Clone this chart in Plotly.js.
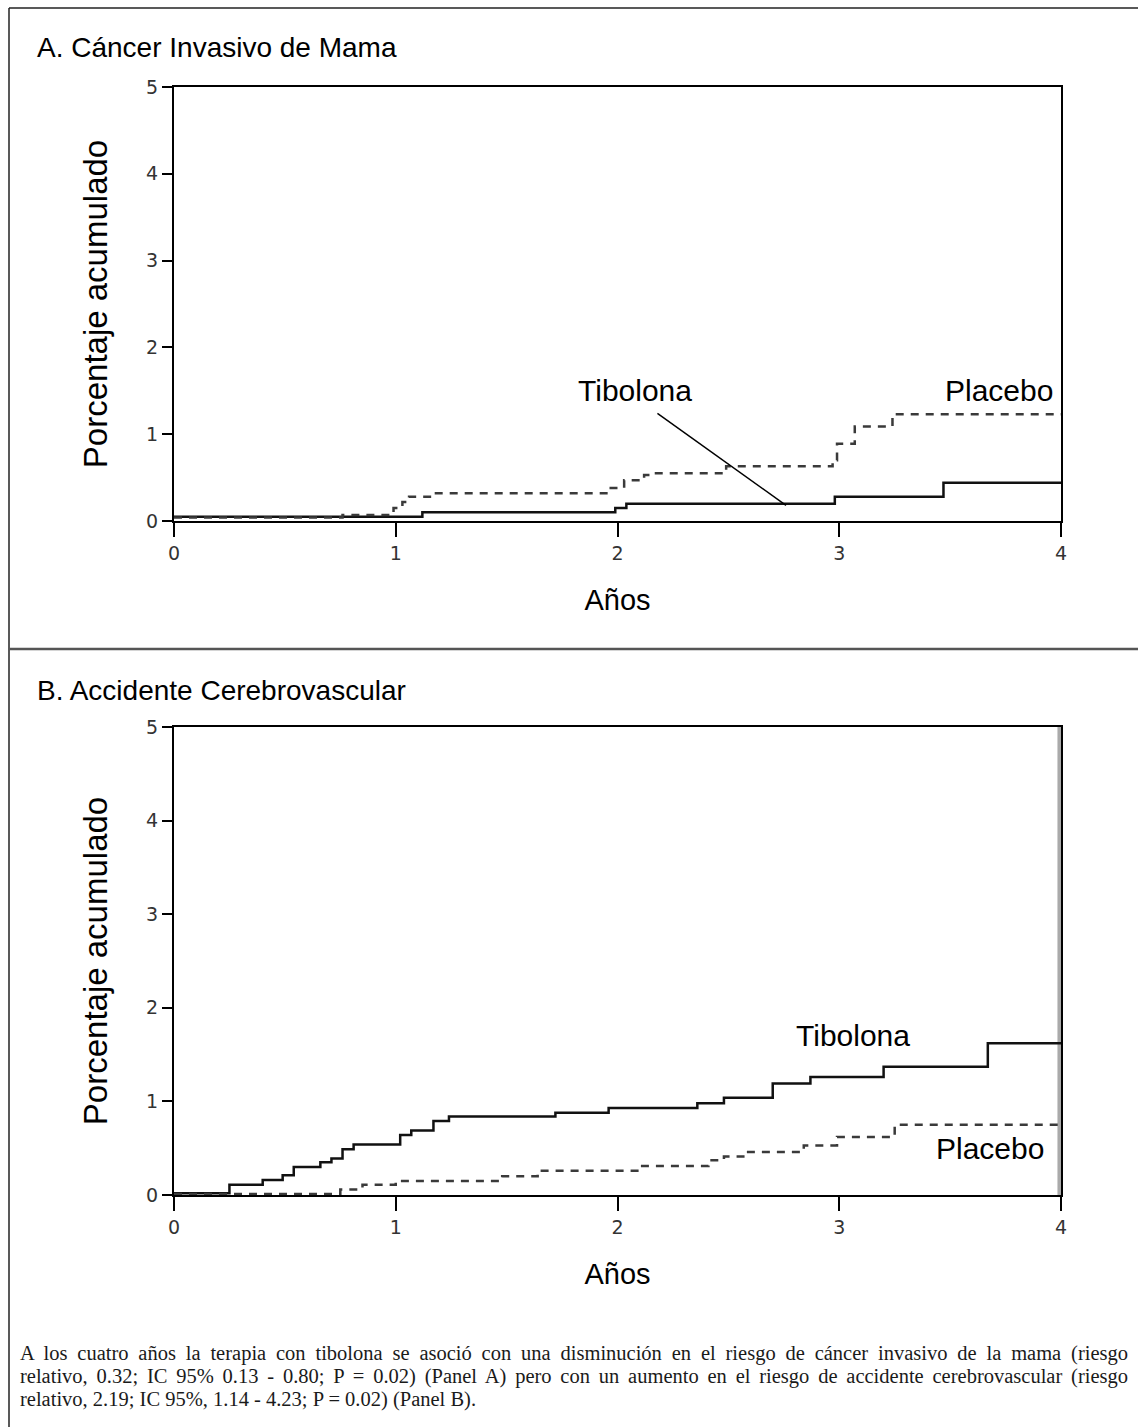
<!DOCTYPE html>
<html>
<head>
<meta charset="utf-8">
<script src="https://cdn.plot.ly/plotly-3.0.1.min.js"></script>
<style>
  html, body { margin: 0; padding: 0; background: #fff; }
  #wrap { position: relative; width: 1138px; height: 1427px; overflow: hidden; }
  #chart { position: absolute; left: 0; top: 0; width: 1138px; height: 1427px; }
  #caption { position: absolute; left: 20px; top: 1342px; width: 1108px;
    font-family: "Liberation Serif", "DejaVu Serif", serif; font-size: 20.5px; line-height: 23px; color: #1a1a1a; }
  #caption .j { text-align: justify; text-align-last: justify; white-space: nowrap; }
  #caption .l { text-align: left; }
</style>
</head>
<body>
<div id="wrap">
  <div id="chart"></div>
  <div id="caption"></div>
</div>
<script>
// ---- Data ----
const years = [0, 1, 2, 3, 4];
const pctTicks = [0, 1, 2, 3, 4, 5];

// Panel A: Cáncer Invasivo de Mama
const tibA_x = [0, 1.12, 1.99, 2.04, 2.98, 3.47, 4];
const tibA_y = [0.05, 0.10, 0.15, 0.20, 0.28, 0.44, 0.44];
const plaA_x = [0, 0.76, 0.99, 1.03, 1.06, 1.17, 1.95, 2.03, 2.12, 2.16, 2.49, 2.97, 2.99, 3.07, 3.24, 4];
const plaA_y = [0.04, 0.07, 0.15, 0.22, 0.28, 0.32, 0.38, 0.47, 0.53, 0.55, 0.63, 0.70, 0.89, 1.09, 1.23, 1.23];

// Panel B: Accidente Cerebrovascular
const tibB_x = [0, 0.25, 0.40, 0.49, 0.54, 0.66, 0.71, 0.76, 0.81, 1.02, 1.07, 1.17, 1.24, 1.72, 1.96, 2.36, 2.48, 2.70, 2.87, 3.20, 3.67, 4];
const tibB_y = [0.02, 0.11, 0.16, 0.21, 0.30, 0.35, 0.39, 0.49, 0.54, 0.64, 0.69, 0.79, 0.84, 0.88, 0.93, 0.98, 1.04, 1.19, 1.26, 1.37, 1.62, 1.62];
const plaB_x = [0, 0.75, 0.85, 1.00, 1.48, 1.64, 2.10, 2.41, 2.48, 2.58, 2.84, 2.99, 3.25, 4];
const plaB_y = [0.01, 0.06, 0.11, 0.15, 0.20, 0.26, 0.31, 0.37, 0.41, 0.46, 0.53, 0.62, 0.75, 0.75];

const panelTitles = ["A. Cáncer Invasivo de Mama", "B. Accidente Cerebrovascular"];
const seriesNames = ["Tibolona", "Placebo"];
const xTitle = "Años";
const yTitle = "Porcentaje acumulado";
const captionLines = [
  "A los cuatro años la terapia con tibolona se asoció con una disminución en el riesgo de cáncer invasivo de la mama (riesgo",
  "relativo, 0.32; IC 95% 0.13 - 0.80; P = 0.02) (Panel A) pero con un aumento en el riesgo de accidente cerebrovascular (riesgo",
  "relativo, 2.19; IC 95%, 1.14 - 4.23; P = 0.02) (Panel B)."
];

// ---- Figure ----
const W = 1138, H = 1427;
const px = v => v / W;
const py = v => 1 - v / H;
const SANS = "Liberation Sans, Arial, sans-serif";

const solid = {color: '#111', width: 2.5, shape: 'hv'};
const dashed = {color: '#3a3a3a', width: 2.5, shape: 'hv', dash: '8px,7px'};

const traces = [
  {x: tibA_x, y: tibA_y, xaxis: 'x', yaxis: 'y', mode: 'lines', line: solid, name: seriesNames[0], showlegend: false, hoverinfo: 'skip'},
  {x: plaA_x, y: plaA_y, xaxis: 'x', yaxis: 'y', mode: 'lines', line: dashed, name: seriesNames[1], showlegend: false, hoverinfo: 'skip'},
  {x: tibB_x, y: tibB_y, xaxis: 'x2', yaxis: 'y2', mode: 'lines', line: solid, name: seriesNames[0], showlegend: false, hoverinfo: 'skip'},
  {x: plaB_x, y: plaB_y, xaxis: 'x2', yaxis: 'y2', mode: 'lines', line: dashed, name: seriesNames[1], showlegend: false, hoverinfo: 'skip'}
];

const tickFont = {family: 'DejaVu Sans, sans-serif', size: 19, color: '#333'};

function xAxis(anchor) {
  return {
    domain: [px(174), px(1061)], anchor: anchor, range: [0, 4],
    tickvals: years, ticktext: years.map(String),
    showline: true, linewidth: 2, linecolor: '#000', mirror: true,
    ticks: 'outside', ticklen: 14, tickwidth: 2, tickcolor: '#000',
    showgrid: false, zeroline: false,
    tickfont: tickFont,
    title: {text: xTitle, font: {family: SANS, size: 29, color: '#000'}, standoff: 27},
    fixedrange: true
  };
}
function yAxis(anchor, dom) {
  return {
    domain: dom, anchor: anchor, range: [0, 5],
    tickvals: pctTicks, ticktext: pctTicks.map(String),
    showline: true, linewidth: 2, linecolor: '#000', mirror: true,
    ticks: 'outside', ticklen: 10, tickwidth: 2, tickcolor: '#000',
    showgrid: false, zeroline: false,
    tickfont: tickFont,
    title: {text: yTitle, font: {family: SANS, size: 33, color: '#000'}, standoff: 29},
    fixedrange: true
  };
}

const layout = {
  width: W, height: H,
  margin: {l: 0, r: 0, t: 0, b: 0},
  paper_bgcolor: '#fff', plot_bgcolor: '#fff',
  showlegend: false,
  xaxis: xAxis('y'),
  yaxis: yAxis('x', [py(521), py(87)]),
  xaxis2: xAxis('y2'),
  yaxis2: yAxis('x2', [py(1195), py(727)]),
  shapes: [
    // outer frame (left, top) and separator between panels
    {type: 'line', xref: 'paper', yref: 'paper', x0: px(9), x1: px(9), y0: py(8), y1: 0, line: {color: '#222', width: 1.5}},
    {type: 'line', xref: 'paper', yref: 'paper', x0: px(9), x1: 1, y0: py(8), y1: py(8), line: {color: '#222', width: 1.5}},
    {type: 'line', xref: 'paper', yref: 'paper', x0: px(9), x1: 1, y0: py(649), y1: py(649), line: {color: '#555', width: 2.5}},
    // gray band along right edge of panel B
    {type: 'line', xref: 'x2', yref: 'y2', x0: 3.993, x1: 3.993, y0: 0, y1: 5, line: {color: '#aaa', width: 4}, layer: 'below'},
    // pointer from "Tibolona" label in panel A
    {type: 'line', xref: 'x', yref: 'y', x0: 2.18, y0: 1.24, x1: 2.76, y1: 0.18, line: {color: '#000', width: 1.5}}
  ],
  annotations: [
    {text: panelTitles[0], xref: 'paper', yref: 'paper', x: px(35), y: py(47), xanchor: 'left', yanchor: 'middle', showarrow: false,
     font: {family: SANS, size: 28, color: '#000'}},
    {text: panelTitles[1], xref: 'paper', yref: 'paper', x: px(35), y: py(690), xanchor: 'left', yanchor: 'middle', showarrow: false,
     font: {family: SANS, size: 28, color: '#000'}},
    {text: seriesNames[0], xref: 'x', yref: 'y', x: 2.08, y: 1.50, xanchor: 'center', yanchor: 'middle', showarrow: false,
     font: {family: SANS, size: 30, color: '#000'}},
    {text: seriesNames[1], xref: 'x', yref: 'y', x: 3.72, y: 1.50, xanchor: 'center', yanchor: 'middle', showarrow: false,
     font: {family: SANS, size: 30, color: '#000'}},
    {text: seriesNames[0], xref: 'x2', yref: 'y2', x: 3.06, y: 1.70, xanchor: 'center', yanchor: 'middle', showarrow: false,
     font: {family: SANS, size: 30, color: '#000'}},
    {text: seriesNames[1], xref: 'x2', yref: 'y2', x: 3.68, y: 0.50, xanchor: 'center', yanchor: 'middle', showarrow: false,
     font: {family: SANS, size: 30, color: '#000'}}
  ]
};

Plotly.newPlot('chart', traces, layout, {staticPlot: true, displayModeBar: false});

// caption (justified lines, as in the source)
const cap = document.getElementById('caption');
captionLines.forEach((t, i) => {
  const d = document.createElement('div');
  d.className = i < captionLines.length - 1 ? 'j' : 'l';
  d.textContent = t;
  cap.appendChild(d);
});
</script>
</body>
</html>
